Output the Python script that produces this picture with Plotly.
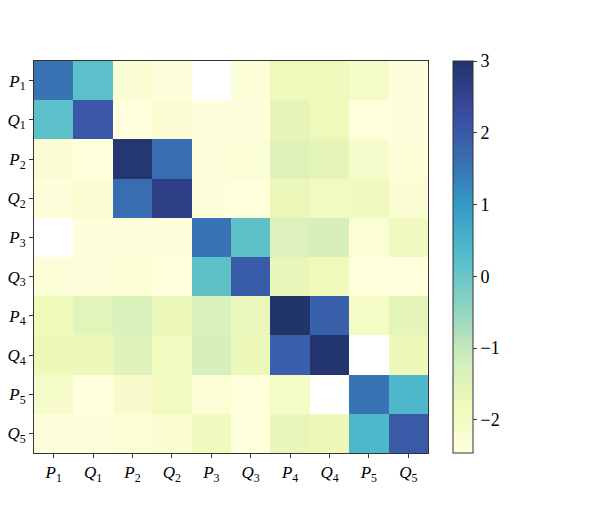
import plotly.graph_objects as go

# variable names, shown as P_i / Q_i
names = ["P1", "Q1", "P2", "Q2", "P3", "Q3", "P4", "Q4", "P5", "Q5"]
tick_text = ["<i>%s</i><sub>%s</sub>" % (n[0], n[1]) for n in names]

# matrix values (None = blank cell)
row_p1 = [1.56, 0.18, -2.25, -2.40, None, -2.35, -1.83, -1.83, -2.08, -2.40]
row_q1 = [0.18, 2.03, -2.46, -2.25, -2.40, -2.40, -1.58, -1.78, -2.46, -2.40]
row_p2 = [-2.25, -2.42, 2.91, 1.63, -2.40, -2.30, -1.44, -1.58, -2.14, -2.35]
row_q2 = [-2.40, -2.25, 1.63, 2.64, -2.40, -2.42, -1.72, -1.90, -1.87, -2.25]
row_p3 = [None, -2.40, -2.40, -2.40, 1.55, 0.13, -1.40, -1.28, -2.28, -1.88]
row_q3 = [-2.35, -2.40, -2.30, -2.42, 0.13, 1.96, -1.64, -1.78, -2.42, -2.42]
row_p4 = [-1.78, -1.54, -1.38, -1.68, -1.38, -1.66, 2.98, 1.86, -2.00, -1.58]
row_q4 = [-1.74, -1.74, -1.50, -1.90, -1.28, -1.72, 1.86, 2.93, None, -1.76]
row_p5 = [-2.08, -2.46, -2.15, -1.90, -2.28, -2.42, -2.00, None, 1.55, 0.40]
row_q5 = [-2.40, -2.40, -2.33, -2.20, -1.88, -2.42, -1.61, -1.76, 0.40, 2.00]

matrix = [row_p1, row_q1, row_p2, row_q2, row_p3,
          row_q3, row_p4, row_q4, row_p5, row_q5]

z_min = -2.46
z_max = 3.0
cbar_ticks = [-2, -1, 0, 1, 2, 3]

# YlGnBu, drawn at 90% opacity over white (so the colour bar matches too)
ylgnbu = ["#ffffd9", "#edf8b1", "#c7e9b4", "#7fcdbb", "#41b6c4",
          "#1d91c0", "#225ea8", "#253494", "#081d58"]
alpha = 0.9


def fade(hex_colour):
    rgb = [int(hex_colour[i:i + 2], 16) for i in (1, 3, 5)]
    r, g, b = [round(alpha * c + (1 - alpha) * 255) for c in rgb]
    return "rgb(%d,%d,%d)" % (r, g, b)


colorscale = [[i / (len(ylgnbu) - 1), fade(c)] for i, c in enumerate(ylgnbu)]

font = dict(family="Liberation Serif, DejaVu Serif, serif", size=18, color="black")
tick_font = dict(font, size=17)

fig = go.Figure(
    go.Heatmap(
        z=matrix,
        x=names,
        y=names,
        zmin=z_min,
        zmax=z_max,
        colorscale=colorscale,
        hoverongaps=False,
        colorbar=dict(
            x=(453 - 34) / 394,
            xanchor="left",
            xpad=0,
            y=0.5,
            yanchor="middle",
            ypad=0,
            len=1.0,
            lenmode="fraction",
            thickness=20,
            outlinewidth=1,
            outlinecolor="#333333",
            tickvals=cbar_ticks,
            ticks="outside",
            ticklen=4,
            tickcolor="#333333",
            tickfont=font,
        ),
    )
)

axis_style = dict(
    showline=True,
    mirror=True,
    linecolor="#333333",
    linewidth=1,
    ticks="outside",
    ticklen=4,
    tickcolor="#333333",
    tickfont=tick_font,
    tickvals=names,
    ticktext=tick_text,
    showgrid=False,
    zeroline=False,
    automargin=False,
)

fig.update_xaxes(**axis_style)
fig.update_yaxes(autorange="reversed", **axis_style)

# the page body adds 8px, so the margins are shifted to land the plot where it should
fig.update_layout(
    width=598,
    height=510,
    margin=dict(l=26, r=178, t=53, b=65, autoexpand=False),
    paper_bgcolor="white",
    plot_bgcolor="white",
    font=font,
)

fig.write_html("out.html")
